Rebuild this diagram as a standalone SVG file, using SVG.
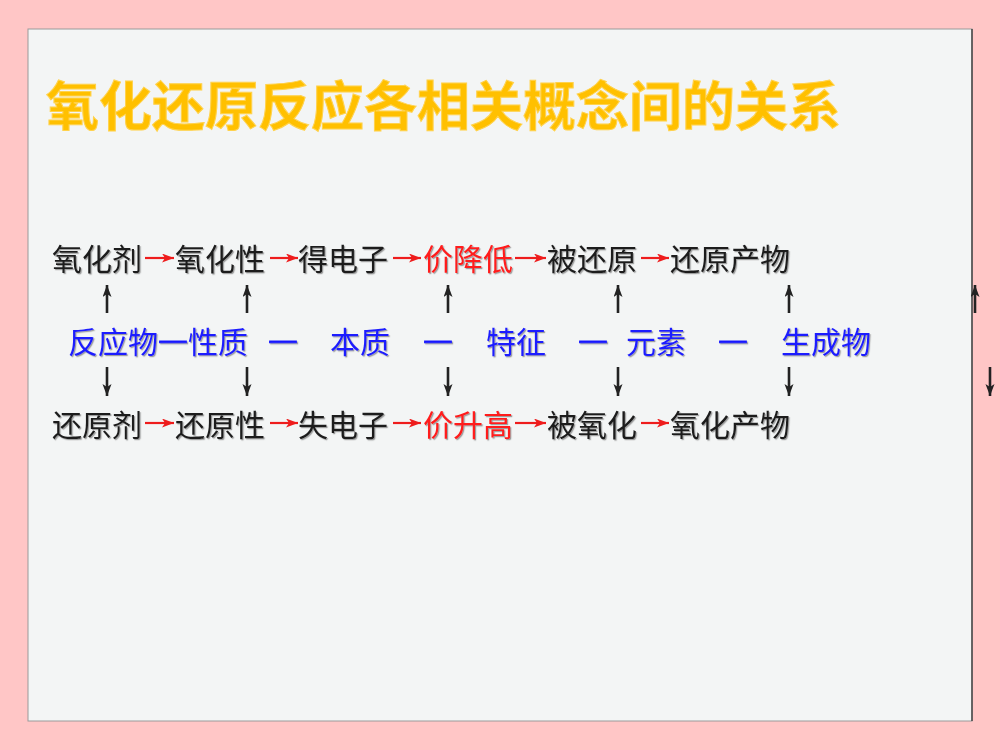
<svg xmlns="http://www.w3.org/2000/svg" width="1000" height="750" viewBox="0 0 1000 750">
  <defs>
    <style>
      .t { font-family: "Noto Sans CJK SC", "Noto Sans", sans-serif; font-size: 30px; }
      .blk { fill: #1a1a1a; }
      .red { fill: #ff1a1a; }
      .blue { fill: #1a1aff; }
      .dash { stroke: #1a1aff; stroke-width: 0.8; }
      .title { font-family: "Noto Sans CJK SC", "Noto Sans", sans-serif; font-size: 53px; font-weight: bold; fill: #ffc000; stroke: #ffd24d; stroke-width: 1; }
      .ra { stroke: #ee1c1c; stroke-width: 2.2; fill: none; marker-end: url(#headR); }
      .ka { stroke: #222; stroke-width: 2.6; fill: none; marker-end: url(#headK); }
    </style>
    <marker id="headR" markerUnits="userSpaceOnUse" markerWidth="13" markerHeight="10" refX="12" refY="4.5" orient="auto">
      <path d="M0,0 L12,4.5 L0,9 L3,4.5 z" fill="#ee1c1c"/>
    </marker>
    <marker id="headK" markerUnits="userSpaceOnUse" markerWidth="13" markerHeight="10" refX="12" refY="4.5" orient="auto">
      <path d="M0,0 L12,4.5 L0,9 L3,4.5 z" fill="#222"/>
    </marker>
    <filter id="sh" x="-5%" y="-20%" width="110%" height="140%">
      <feDropShadow dx="1.2" dy="1.2" stdDeviation="0.4" flood-color="#666" flood-opacity="0.6"/>
    </filter>
  </defs>

  <rect x="0" y="0" width="1000" height="750" fill="#ffc6c6"/>
  <rect x="28" y="29" width="944" height="692" fill="#f3f5f5" stroke="#9a9a9a" stroke-width="1"/>
  <line x1="972" y1="29" x2="972" y2="721" stroke="#444" stroke-width="1.5"/>

  <g id="title">
    <text class="title" x="46" y="126">氧化还原反应各相关概念间的关系</text>
  </g>

  <g id="row1" filter="url(#sh)">
    <text class="t blk" x="52" y="270">氧化剂</text>
    <text class="t blk" x="175" y="270">氧化性</text>
    <text class="t blk" x="298" y="270">得电子</text>
    <text class="t red" x="423" y="270">价降低</text>
    <text class="t blk" x="547" y="270">被还原</text>
    <text class="t blk" x="670" y="270">还原产物</text>
  </g>

  <g id="row2" filter="url(#sh)">
    <text class="t blue" x="68" y="353">反应物</text>
    <text class="t blue dash" x="158" y="350" textLength="30" lengthAdjust="spacingAndGlyphs">—</text>
    <text class="t blue" x="188" y="353">性质</text>
    <text class="t blue dash" x="268" y="350" textLength="30" lengthAdjust="spacingAndGlyphs">—</text>
    <text class="t blue" x="330" y="353">本质</text>
    <text class="t blue dash" x="423" y="350" textLength="30" lengthAdjust="spacingAndGlyphs">—</text>
    <text class="t blue" x="486" y="353">特征</text>
    <text class="t blue dash" x="578" y="350" textLength="30" lengthAdjust="spacingAndGlyphs">—</text>
    <text class="t blue" x="626" y="353">元素</text>
    <text class="t blue dash" x="718" y="350" textLength="30" lengthAdjust="spacingAndGlyphs">—</text>
    <text class="t blue" x="781" y="353">生成物</text>
  </g>

  <g id="row3" filter="url(#sh)">
    <text class="t blk" x="52" y="436">还原剂</text>
    <text class="t blk" x="175" y="436">还原性</text>
    <text class="t blk" x="298" y="436">失电子</text>
    <text class="t red" x="423" y="436">价升高</text>
    <text class="t blk" x="547" y="436">被氧化</text>
    <text class="t blk" x="670" y="436">氧化产物</text>
  </g>

  <g id="connectors">
    <line class="ra" x1="145" y1="258" x2="174" y2="258"/>
    <line class="ra" x1="270" y1="258" x2="298" y2="258"/>
    <line class="ra" x1="393" y1="258" x2="421" y2="258"/>
    <line class="ra" x1="515" y1="258" x2="546" y2="258"/>
    <line class="ra" x1="641" y1="258" x2="669" y2="258"/>

    <line class="ra" x1="145" y1="423" x2="174" y2="423"/>
    <line class="ra" x1="270" y1="423" x2="298" y2="423"/>
    <line class="ra" x1="393" y1="423" x2="421" y2="423"/>
    <line class="ra" x1="515" y1="423" x2="546" y2="423"/>
    <line class="ra" x1="641" y1="423" x2="669" y2="423"/>

    <line class="ka" x1="107" y1="313" x2="107" y2="285"/>
    <line class="ka" x1="247" y1="313" x2="247" y2="285"/>
    <line class="ka" x1="448" y1="313" x2="448" y2="285"/>
    <line class="ka" x1="618" y1="313" x2="618" y2="285"/>
    <line class="ka" x1="789" y1="313" x2="789" y2="285"/>
    <line class="ka" x1="975" y1="313" x2="975" y2="285"/>

    <line class="ka" x1="107" y1="367" x2="107" y2="396"/>
    <line class="ka" x1="247" y1="367" x2="247" y2="396"/>
    <line class="ka" x1="448" y1="367" x2="448" y2="396"/>
    <line class="ka" x1="618" y1="367" x2="618" y2="396"/>
    <line class="ka" x1="789" y1="367" x2="789" y2="396"/>
    <line class="ka" x1="990" y1="367" x2="990" y2="396"/>
  </g>
</svg>
